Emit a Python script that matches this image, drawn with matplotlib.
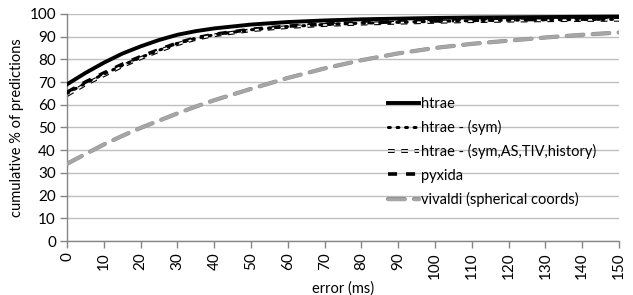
import matplotlib
matplotlib.use("Agg")
import matplotlib.pyplot as plt
import matplotlib.patheffects as pe
import numpy as np

plt.rcParams['font.family'] = ['Lato', 'DejaVu Sans']

error_ms = [0, 5, 10, 15, 20, 25, 30, 35, 40, 50, 60, 70, 80, 90, 100, 110, 120, 130, 140, 150]
htrae = [69, 74, 78.5, 82.5, 85.7, 88.5, 90.8, 92.4, 93.6, 95.3, 96.4, 97.1, 97.6, 97.9, 98.2, 98.4, 98.5, 98.6, 98.7, 98.8]
htrae_sym = [65, 69.5, 73.5, 77.3, 80.8, 84, 87, 89.2, 90.8, 93, 94.4, 95.3, 95.9, 96.3, 96.7, 97, 97.2, 97.4, 97.5, 97.6]
htrae_full = [64.3, 69, 73, 77, 80.5, 83.7, 86.7, 89, 90.6, 92.8, 94.2, 95.1, 95.7, 96.1, 96.5, 96.8, 97, 97.2, 97.3, 97.4]
pyxida = [65.5, 70, 74, 77.8, 81.2, 84.3, 87.2, 89.4, 91, 93.2, 94.6, 95.5, 96.1, 96.5, 96.9, 97.2, 97.4, 97.6, 97.7, 97.8]
vivaldi = [34, 38.3, 42.5, 46.3, 49.8, 53, 56.2, 59.2, 62, 67, 71.8, 76, 79.6, 82.6, 85, 86.8, 88.2, 89.6, 90.8, 91.8]

labels = ['htrae', 'htrae - (sym)', 'htrae - (sym,AS,TIV,history)', 'pyxida', 'vivaldi (spherical coords)']
xticks = list(range(0, 151, 10))
yticks = list(range(0, 101, 10))

fig = plt.figure(figsize=(6.33, 2.95), dpi=100)
ax = fig.add_axes([0.106, 0.183, 0.872, 0.770])

grid_c = '#bfbfbf'
axis_c = '#868686'

l_viv, = ax.plot(error_ms, vivaldi, color='#a6a6a6', lw=2.4, dashes=(5, 2.8), solid_capstyle='round',
                 dash_capstyle='round', label=labels[4], zorder=3,
                 path_effects=[pe.Stroke(linewidth=3.0, foreground='#8c8c8c'), pe.Normal()])
l_pyx, = ax.plot(error_ms, pyxida, color='black', lw=2.6, dashes=(2.5, 2.5), label=labels[3], zorder=4)
l_full, = ax.plot(error_ms, htrae_full, color='white', lw=1.2, dashes=(4, 4), label=labels[2], zorder=5,
                  path_effects=[pe.Stroke(linewidth=2.8, foreground='black'), pe.Normal()])
l_sym, = ax.plot(error_ms, htrae_sym, color='black', lw=2.2, dashes=(0.6, 2.2), dash_capstyle='round',
                 label=labels[1], zorder=6)
l_h, = ax.plot(error_ms, htrae, color='black', lw=2.8, label=labels[0], zorder=7)

ax.set_xlim(0, 150)
ax.set_ylim(0, 100)
ax.set_xticks(xticks)
ax.set_yticks(yticks)
ax.set_xticklabels([str(v) for v in xticks], rotation=90)
ax.yaxis.grid(True, color=grid_c, lw=1.0)
ax.set_axisbelow(True)
for s in ['top', 'right']:
    ax.spines[s].set_visible(False)
for s in ['left', 'bottom']:
    ax.spines[s].set_color(axis_c)
    ax.spines[s].set_linewidth(1.0)
ax.tick_params(axis='both', colors=axis_c, length=5, width=1.0, labelsize=11, labelcolor='black', pad=3)
ax.set_xlabel('error (ms)', fontsize=10.5, labelpad=2)
ax.set_ylabel('cumulative % of predictions', fontsize=10.5, labelpad=4)

leg = ax.legend(handles=[l_h, l_sym, l_full, l_pyx, l_viv], loc='upper left',
                bbox_to_anchor=(0.568, 0.665), frameon=False, fontsize=10.5,
                handlelength=2.1, handletextpad=0.15, labelspacing=0.62, borderpad=0)

fig.savefig('out.png', dpi=100)
